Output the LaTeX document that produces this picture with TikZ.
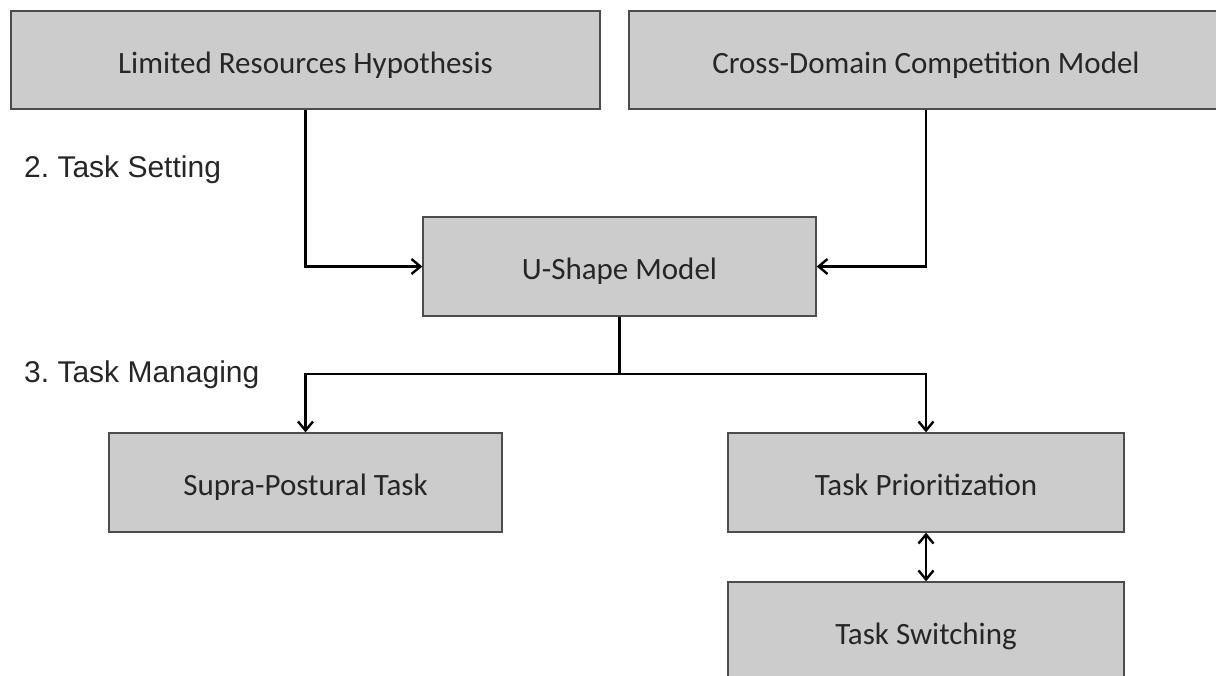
\documentclass[tikz,border=0pt]{standalone}
\usepackage{fontspec}
\setmainfont{Carlito}
\newfontfamily\labelfont{Liberation Sans}
\usepackage{tikz}
\usetikzlibrary{arrows.meta}
\usetikzlibrary{positioning}

\tikzset{
	box/.style={draw=black!70, fill=black!20, line width=1.3pt, inner sep=0pt,
		text height=26pt, text depth=0pt,
		font=\fontsize{31}{36}\selectfont, text=black!85},
	conn/.style={line width=2.4pt, black},
	tasklabel/.style={anchor=base west, inner sep=0pt,
		font=\labelfont\fontsize{30}{34}\selectfont\frenchspacing, text=black!85}
}

\begin{document}
\begin{tikzpicture}
	[x=1pt, y=-1pt, >={Straight Barb[length=9pt,width=15pt,line width=2.4pt]}]
	\useasboundingbox (0,0) rectangle (1216,675);
	\clip (0,0) rectangle (1216,675);
	% theories
	\node[box, minimum width=589pt, minimum height=98pt] (lrh) at (305.5,60) {Limited Resources Hypothesis};
	\node[box, minimum width=594pt, minimum height=98pt] (cdcm) at (926,60) {Cross-Domain Competition Model};
	\node[box, minimum width=393pt, minimum height=99pt] (ushape) at (619.5,266.5) {U-Shape Model};
	% tasks
	\node[box, minimum width=393pt, minimum height=99pt] (supra) at (305.5,482.5) {Supra-Postural Task};
	\node[box, minimum width=396pt, minimum height=99pt] (prior) at (926,482.5) {Task Prioritization};
	\node[box, minimum width=396pt, minimum height=99pt] (switch) at (926,631.5) {Task Switching};
	% stage labels
	\node[tasklabel] (setting) at (24,177) {2. Task Setting};
	\node[tasklabel] (managing) at (24,382) {3. Task Managing};
	% connectors
	\coordinate (fork) at (619.5,374);
	\draw[conn, ->] (lrh.south) |- (ushape.west);
	\draw[conn, ->] (cdcm.south) |- (ushape.east);
	\draw[conn] (ushape.south) -- (fork);
	\draw[conn, ->] (fork) -| (supra.north);
	\draw[conn, ->] (fork) -| (prior.north);
	\draw[conn, <->] (prior.south) -- (switch.north);
\end{tikzpicture}
\end{document}
